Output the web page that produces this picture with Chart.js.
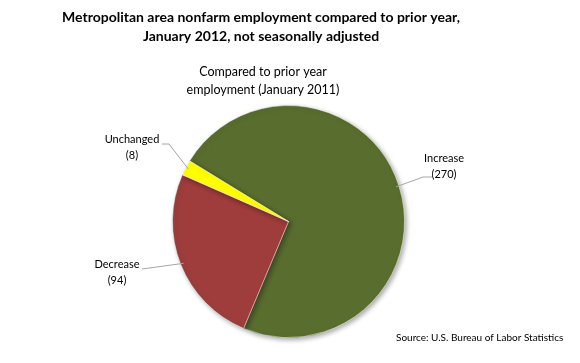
<!DOCTYPE html>
<html>
<head>
<meta charset="utf-8">
<script src="https://cdn.jsdelivr.net/npm/chart.js@4.4.0/dist/chart.umd.min.js"></script>
<style>
  html, body { margin: 0; padding: 0; background: #fff; }
  #wrap { width: 580px; height: 363px; position: relative; }
</style>
</head>
<body>
<div id="wrap"><canvas id="pieChart" width="580" height="363"></canvas></div>
<script>
// datos del grafico
var categorias = ['Increase', 'Decrease', 'Unchanged'];
var valores = [270, 94, 8];
var colores = ['#596d2f', '#9e3d3c', '#ffff00'];

var tituloLineas = ['Metropolitan area nonfarm employment compared to prior year,', 'January 2012, not seasonally adjusted'];
var subtituloLineas = ['Compared to prior year', 'employment (January 2011)'];
var fuente = 'Source: U.S. Bureau of Labor Statistics';

var fuenteBase = 'Lato, "Open Sans", sans-serif';

// posiciones de etiquetas (texto y quiebre de la linea guia)
var etiquetasPos = [
  { x: 444, y: 158, quiebre: [423, 177], inicio: [432, 177] },
  { x: 117, y: 264, quiebre: null, inicio: [142, 269] },
  { x: 132, y: 139, quiebre: [169, 144], inicio: [162, 144] }
];

// sombra del pastel
var sombraPlugin = {
  id: 'sombra',
  beforeDatasetsDraw: function (chart) {
    var ctx = chart.ctx;
    ctx.save();
    ctx.shadowColor = 'rgba(0,0,0,0.35)';
    ctx.shadowBlur = 5;
    ctx.shadowOffsetX = 2;
    ctx.shadowOffsetY = 2;
  },
  afterDatasetsDraw: function (chart) {
    chart.ctx.restore();
  }
};

// textos y etiquetas
var textosPlugin = {
  id: 'textos',
  afterDraw: function (chart) {
    var ctx = chart.ctx;
    ctx.save();
    ctx.fillStyle = '#000';
    ctx.textAlign = 'center';
    ctx.textBaseline = 'middle';

    ctx.font = 'bold 14px ' + fuenteBase;
    ctx.fillText(tituloLineas[0], 261, 17);
    ctx.fillText(tituloLineas[1], 261, 36);

    ctx.font = '12.5px ' + fuenteBase;
    ctx.fillText(subtituloLineas[0], 263, 72);
    ctx.fillText(subtituloLineas[1], 263, 90);

    ctx.font = '10px ' + fuenteBase;
    ctx.textAlign = 'left';
    ctx.fillText(fuente, 396, 338);

    // etiquetas de porciones
    var arcos = chart.getDatasetMeta(0).data;
    ctx.font = '11px ' + fuenteBase;
    ctx.textAlign = 'center';
    arcos.forEach(function (arco, i) {
      var p = etiquetasPos[i];
      var medio = (arco.startAngle + arco.endAngle) / 2;
      var r = arco.outerRadius - 3;
      var ex = arco.x + Math.cos(medio) * r;
      var ey = arco.y + Math.sin(medio) * r;

      ctx.strokeStyle = '#a6a6a6';
      ctx.lineWidth = 1;
      ctx.beginPath();
      ctx.moveTo(p.inicio[0], p.inicio[1]);
      if (p.quiebre) ctx.lineTo(p.quiebre[0], p.quiebre[1]);
      ctx.lineTo(ex, ey);
      ctx.stroke();

      ctx.fillStyle = '#000';
      ctx.fillText(categorias[i], p.x, p.y);
      ctx.fillText('(' + valores[i] + ')', p.x, p.y + 16);
    });
    ctx.restore();
  }
};

var ctxPie = document.getElementById('pieChart').getContext('2d');
var pieChart = new Chart(ctxPie, {
  type: 'pie',
  data: {
    labels: categorias,
    datasets: [{
      data: valores,
      backgroundColor: colores,
      borderColor: 'rgba(255,255,255,0.45)',
      borderWidth: 1
    }]
  },
  options: {
    responsive: false,
    animation: false,
    rotation: -58.5,
    layout: { padding: { top: 105, bottom: 25, left: 172, right: 175 } },
    plugins: {
      legend: { display: false },
      tooltip: { enabled: false },
      title: { display: false }
    }
  },
  plugins: [sombraPlugin, textosPlugin]
});
</script>
</body>
</html>
